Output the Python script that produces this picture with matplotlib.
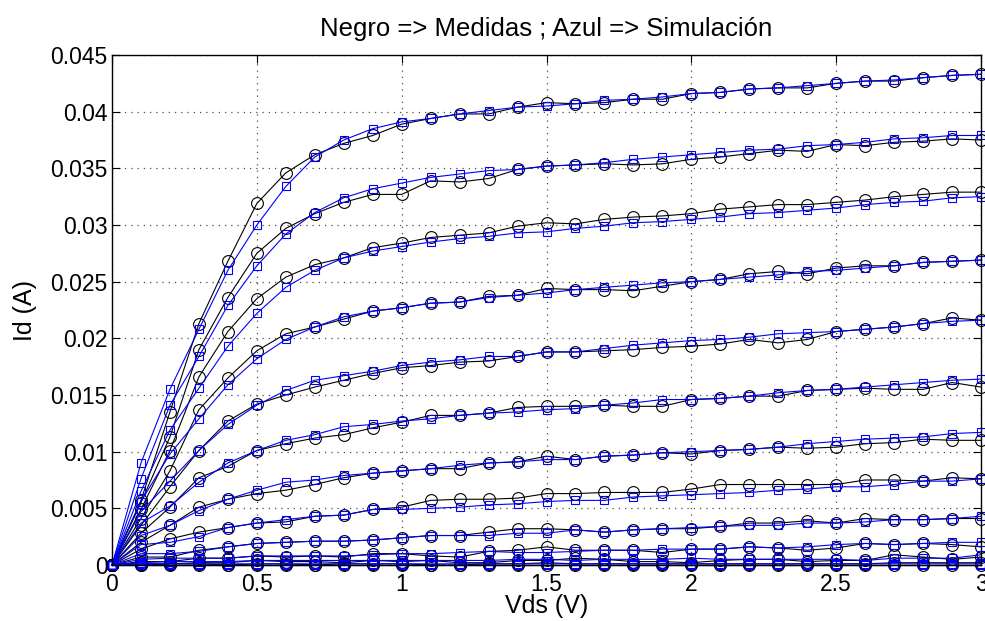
import matplotlib
matplotlib.use('Agg')
import matplotlib.pyplot as plt

plt.rcParams['font.family'] = ['Liberation Sans', 'DejaVu Sans']

vds = [0.0, 0.1, 0.2, 0.3, 0.4, 0.5, 0.6, 0.7, 0.8, 0.9, 1.0,
       1.1, 1.2, 1.3, 1.4, 1.5, 1.6, 1.7, 1.8, 1.9, 2.0,
       2.1, 2.2, 2.3, 2.4, 2.5, 2.6, 2.7, 2.8, 2.9, 3.0]

# medidas (negro), one list per Vgs step, top to bottom
med_1 = [0, 0.0057, 0.0135, 0.0213, 0.0268, 0.0319, 0.0346, 0.0362, 0.0372, 0.0379, 0.0389,
         0.0394, 0.0398, 0.0398, 0.0404, 0.0408, 0.0407, 0.0408, 0.0411, 0.0411, 0.0416,
         0.0417, 0.0420, 0.0421, 0.0421, 0.0425, 0.0427, 0.0427, 0.0430, 0.0432, 0.0433]
med_2 = [0, 0.0055, 0.0113, 0.0190, 0.0236, 0.0275, 0.0297, 0.0310, 0.0320, 0.0327, 0.0327,
         0.0339, 0.0338, 0.0341, 0.0349, 0.0352, 0.0353, 0.0354, 0.0353, 0.0354, 0.0358,
         0.0360, 0.0363, 0.0366, 0.0365, 0.0371, 0.0370, 0.0373, 0.0374, 0.0376, 0.0375]
med_3 = [0, 0.0049, 0.0101, 0.0166, 0.0206, 0.0235, 0.0254, 0.0265, 0.0271, 0.0280, 0.0284,
         0.0289, 0.0291, 0.0293, 0.0299, 0.0302, 0.0301, 0.0305, 0.0307, 0.0308, 0.0310,
         0.0314, 0.0316, 0.0318, 0.0318, 0.0320, 0.0322, 0.0325, 0.0327, 0.0329, 0.0329]
med_4 = [0, 0.0041, 0.0083, 0.0137, 0.0165, 0.0189, 0.0204, 0.0210, 0.0217, 0.0224, 0.0227,
         0.0231, 0.0232, 0.0237, 0.0238, 0.0244, 0.0243, 0.0243, 0.0242, 0.0246, 0.0250,
         0.0252, 0.0257, 0.0259, 0.0257, 0.0262, 0.0264, 0.0264, 0.0267, 0.0268, 0.0269]
med_5 = [0, 0.0035, 0.0069, 0.0101, 0.0127, 0.0142, 0.0150, 0.0157, 0.0163, 0.0169, 0.0174,
         0.0176, 0.0179, 0.0180, 0.0184, 0.0188, 0.0188, 0.0189, 0.0190, 0.0192, 0.0193,
         0.0195, 0.0199, 0.0196, 0.0199, 0.0206, 0.0208, 0.0210, 0.0213, 0.0218, 0.0216]
med_6 = [0, 0.0028, 0.0051, 0.0077, 0.0087, 0.0101, 0.0107, 0.0112, 0.0115, 0.0121, 0.0126,
         0.0132, 0.0132, 0.0134, 0.0139, 0.0140, 0.0140, 0.0141, 0.0140, 0.0140, 0.0146,
         0.0147, 0.0149, 0.0149, 0.0154, 0.0155, 0.0156, 0.0155, 0.0155, 0.0161, 0.0157]
med_7 = [0, 0.0020, 0.0035, 0.0051, 0.0058, 0.0063, 0.0066, 0.0071, 0.0077, 0.0081, 0.0083,
         0.0085, 0.0085, 0.0090, 0.0091, 0.0096, 0.0093, 0.0096, 0.0097, 0.0099, 0.0098,
         0.0101, 0.0102, 0.0104, 0.0103, 0.0104, 0.0107, 0.0108, 0.0111, 0.0110, 0.0110]
med_8 = [0, 0.0014, 0.0023, 0.0029, 0.0033, 0.0037, 0.0038, 0.0043, 0.0044, 0.0049, 0.0051,
         0.0057, 0.0058, 0.0058, 0.0059, 0.0063, 0.0063, 0.0064, 0.0064, 0.0064, 0.0067,
         0.0071, 0.0071, 0.0071, 0.0071, 0.0071, 0.0075, 0.0075, 0.0074, 0.0077, 0.0076]
med_9 = [0, 0.0007, 0.0007, 0.0013, 0.0016, 0.0019, 0.0020, 0.0021, 0.0021, 0.0022, 0.0024,
         0.0026, 0.0026, 0.0029, 0.0032, 0.0032, 0.0031, 0.0029, 0.0031, 0.0032, 0.0032,
         0.0034, 0.0037, 0.0037, 0.0039, 0.0037, 0.0041, 0.0040, 0.0040, 0.0041, 0.0041]
med_10 = [0, 0.0003, 0.0003, 0.0006, 0.0006, 0.0008, 0.0007, 0.0008, 0.0007, 0.0010, 0.0010,
          0.0008, 0.0007, 0.0012, 0.0013, 0.0016, 0.0013, 0.0013, 0.0013, 0.0011, 0.0014,
          0.0014, 0.0016, 0.0015, 0.0013, 0.0015, 0.0019, 0.0018, 0.0019, 0.0018, 0.0016]
med_11 = [0, 0.0001, 0.0001, 0.0002, 0.0002, 0.0004, 0.0003, 0.0003, 0.0002, 0.0004, 0.0003,
          0.0004, 0.0002, 0.0002, 0.0004, 0.0004, 0.0006, 0.0005, 0.0003, 0.0003, 0.0002,
          0.0004, 0.0005, 0.0005, 0.0003, 0.0004, 0.0004, 0.0009, 0.0007, 0.0005, 0.0007]
med_12 = [0, 0, 0.0001, 0.0001, 0, 0.0001, 0.0001, 0, 0.0001, 0.0001, 0.0001,
          0, 0, 0.0001, 0.0001, 0.0002, 0.0001, 0.0001, 0.0001, 0.0001, 0.0001,
          0.0001, 0.0001, 0.0001, 0.0001, 0.0001, 0.0001, 0.0002, 0.0002, 0.0002, 0.0002]
med_13 = [0, 0, 0, 0, 0, 0, 0, 0, 0, 0, 0,
          0, 0, 0, 0, 0, 0, 0, 0, 0, 0,
          0, 0, 0, 0, 0, 0, 0, 0, 0, 0]

# simulacion (azul)
sim_1 = [0, 0.0090, 0.0155, 0.0208, 0.0260, 0.0300, 0.0334, 0.0360, 0.0375, 0.0385, 0.0391,
         0.0394, 0.0398, 0.0401, 0.0404, 0.0405, 0.0407, 0.0410, 0.0411, 0.0413, 0.0416,
         0.0417, 0.0420, 0.0421, 0.0423, 0.0425, 0.0427, 0.0428, 0.0430, 0.0432, 0.0433]
sim_2 = [0, 0.0076, 0.0141, 0.0184, 0.0229, 0.0264, 0.0292, 0.0311, 0.0324, 0.0332, 0.0337,
         0.0342, 0.0345, 0.0348, 0.0349, 0.0352, 0.0353, 0.0355, 0.0358, 0.0360, 0.0362,
         0.0364, 0.0366, 0.0367, 0.0370, 0.0371, 0.0373, 0.0376, 0.0377, 0.0379, 0.0379]
sim_3 = [0, 0.0065, 0.0119, 0.0156, 0.0193, 0.0222, 0.0245, 0.0260, 0.0271, 0.0277, 0.0281,
         0.0285, 0.0288, 0.0290, 0.0293, 0.0294, 0.0297, 0.0299, 0.0302, 0.0303, 0.0305,
         0.0307, 0.0310, 0.0311, 0.0313, 0.0315, 0.0318, 0.0320, 0.0321, 0.0324, 0.0325]
sim_4 = [0, 0.0056, 0.0098, 0.0129, 0.0159, 0.0182, 0.0199, 0.0210, 0.0219, 0.0224, 0.0227,
         0.0231, 0.0232, 0.0236, 0.0238, 0.0240, 0.0243, 0.0245, 0.0247, 0.0249, 0.0250,
         0.0252, 0.0254, 0.0256, 0.0259, 0.0260, 0.0262, 0.0264, 0.0267, 0.0268, 0.0269]
sim_5 = [0, 0.0047, 0.0074, 0.0101, 0.0124, 0.0141, 0.0154, 0.0163, 0.0167, 0.0171, 0.0176,
         0.0179, 0.0181, 0.0184, 0.0184, 0.0188, 0.0188, 0.0191, 0.0194, 0.0196, 0.0198,
         0.0199, 0.0201, 0.0204, 0.0205, 0.0206, 0.0208, 0.0210, 0.0213, 0.0215, 0.0216]
sim_6 = [0, 0.0037, 0.0052, 0.0073, 0.0090, 0.0101, 0.0110, 0.0115, 0.0122, 0.0124, 0.0127,
         0.0129, 0.0132, 0.0134, 0.0135, 0.0137, 0.0138, 0.0141, 0.0143, 0.0146, 0.0146,
         0.0147, 0.0149, 0.0152, 0.0154, 0.0155, 0.0157, 0.0159, 0.0161, 0.0163, 0.0164]
sim_7 = [0, 0.0026, 0.0035, 0.0048, 0.0058, 0.0066, 0.0073, 0.0075, 0.0079, 0.0081, 0.0083,
         0.0085, 0.0088, 0.0090, 0.0091, 0.0093, 0.0093, 0.0096, 0.0097, 0.0099, 0.0100,
         0.0101, 0.0102, 0.0104, 0.0107, 0.0109, 0.0111, 0.0112, 0.0113, 0.0116, 0.0117]
sim_8 = [0, 0.0018, 0.0020, 0.0025, 0.0033, 0.0037, 0.0040, 0.0043, 0.0044, 0.0049, 0.0049,
         0.0050, 0.0051, 0.0053, 0.0054, 0.0056, 0.0057, 0.0057, 0.0060, 0.0061, 0.0062,
         0.0063, 0.0064, 0.0066, 0.0067, 0.0069, 0.0069, 0.0071, 0.0074, 0.0074, 0.0076]
sim_9 = [0, 0.0010, 0.0010, 0.0012, 0.0016, 0.0019, 0.0020, 0.0021, 0.0021, 0.0022, 0.0024,
         0.0026, 0.0026, 0.0026, 0.0028, 0.0028, 0.0031, 0.0029, 0.0031, 0.0032, 0.0033,
         0.0034, 0.0035, 0.0035, 0.0037, 0.0037, 0.0038, 0.0040, 0.0040, 0.0041, 0.0043]
sim_10 = [0, 0.0005, 0.0006, 0.0006, 0.0006, 0.0008, 0.0008, 0.0008, 0.0008, 0.0009, 0.0010,
          0.0010, 0.0011, 0.0012, 0.0011, 0.0011, 0.0012, 0.0013, 0.0013, 0.0014, 0.0014,
          0.0014, 0.0016, 0.0015, 0.0016, 0.0018, 0.0019, 0.0018, 0.0019, 0.0020, 0.0020]
sim_11 = [0, 0.0002, 0.0003, 0.0003, 0.0003, 0.0004, 0.0004, 0.0004, 0.0004, 0.0004, 0.0004,
          0.0004, 0.0004, 0.0004, 0.0005, 0.0005, 0.0004, 0.0005, 0.0005, 0.0005, 0.0006,
          0.0005, 0.0005, 0.0005, 0.0005, 0.0005, 0.0004, 0.0006, 0.0006, 0.0006, 0.0009]
sim_12 = [0, 0.0001, 0.0001, 0.0001, 0.0001, 0.0001, 0.0001, 0.0001, 0.0001, 0.0001, 0.0001,
          0.0001, 0.0001, 0.0001, 0.0001, 0.0001, 0.0001, 0.0001, 0.0001, 0.0001, 0.0001,
          0.0001, 0.0001, 0.0001, 0.0001, 0.0001, 0.0001, 0.0001, 0.0001, 0.0001, 0.0001]
sim_13 = [0, 0, 0, 0, 0, 0, 0, 0, 0, 0, 0,
          0, 0, 0, 0, 0, 0, 0, 0, 0, 0,
          0, 0, 0, 0, 0, 0, 0, 0, 0, 0]

medidas = [med_1, med_2, med_3, med_4, med_5, med_6, med_7, med_8, med_9, med_10, med_11, med_12, med_13]
simulacion = [sim_1, sim_2, sim_3, sim_4, sim_5, sim_6, sim_7, sim_8, sim_9, sim_10, sim_11, sim_12, sim_13]

xticks = [0, 0.5, 1, 1.5, 2, 2.5, 3]
xtick_labels = ['0', '0.5', '1', '1.5', '2', '2.5', '3']
yticks = [0, 0.005, 0.01, 0.015, 0.02, 0.025, 0.03, 0.035, 0.04, 0.045]
ytick_labels = ['0', '0.005', '0.01', '0.015', '0.02', '0.025', '0.03', '0.035', '0.04', '0.045']

fig = plt.figure(figsize=(9.85, 6.21), dpi=100)
ax = fig.add_axes([0.1137, 0.0902, 0.8823, 0.8212])

for m in medidas:
    ax.plot(vds, m, 'k-o', lw=0.8, markersize=8.5, markerfacecolor='none',
            markeredgewidth=0.8, clip_on=False)
for s in simulacion:
    ax.plot(vds, s, 'b-s', lw=0.8, markersize=6, markerfacecolor='none',
            markeredgewidth=0.8, clip_on=False)

ax.set_xlim(0, 3)
ax.set_ylim(0, 0.045)
ax.set_xticks(xticks)
ax.set_xticklabels(xtick_labels)
ax.set_yticks(yticks)
ax.set_yticklabels(ytick_labels)
ax.tick_params(direction='in', top=True, right=True, labelsize=16.5, length=6)
ax.tick_params(axis='x', pad=6)
ax.tick_params(axis='y', pad=3)
ax.grid(True, linestyle=(0, (1, 4)), color='0.3', linewidth=0.9)
for sp in ax.spines.values():
    sp.set_linewidth(1.0)

ax.set_title('Negro => Medidas ; Azul => Simulación', fontsize=18.5, pad=14)
ax.set_xlabel('Vds (V)', fontsize=18, labelpad=-2)
ax.set_ylabel('Id (A)', fontsize=18, labelpad=10)

fig.savefig('out.png', dpi=100)
